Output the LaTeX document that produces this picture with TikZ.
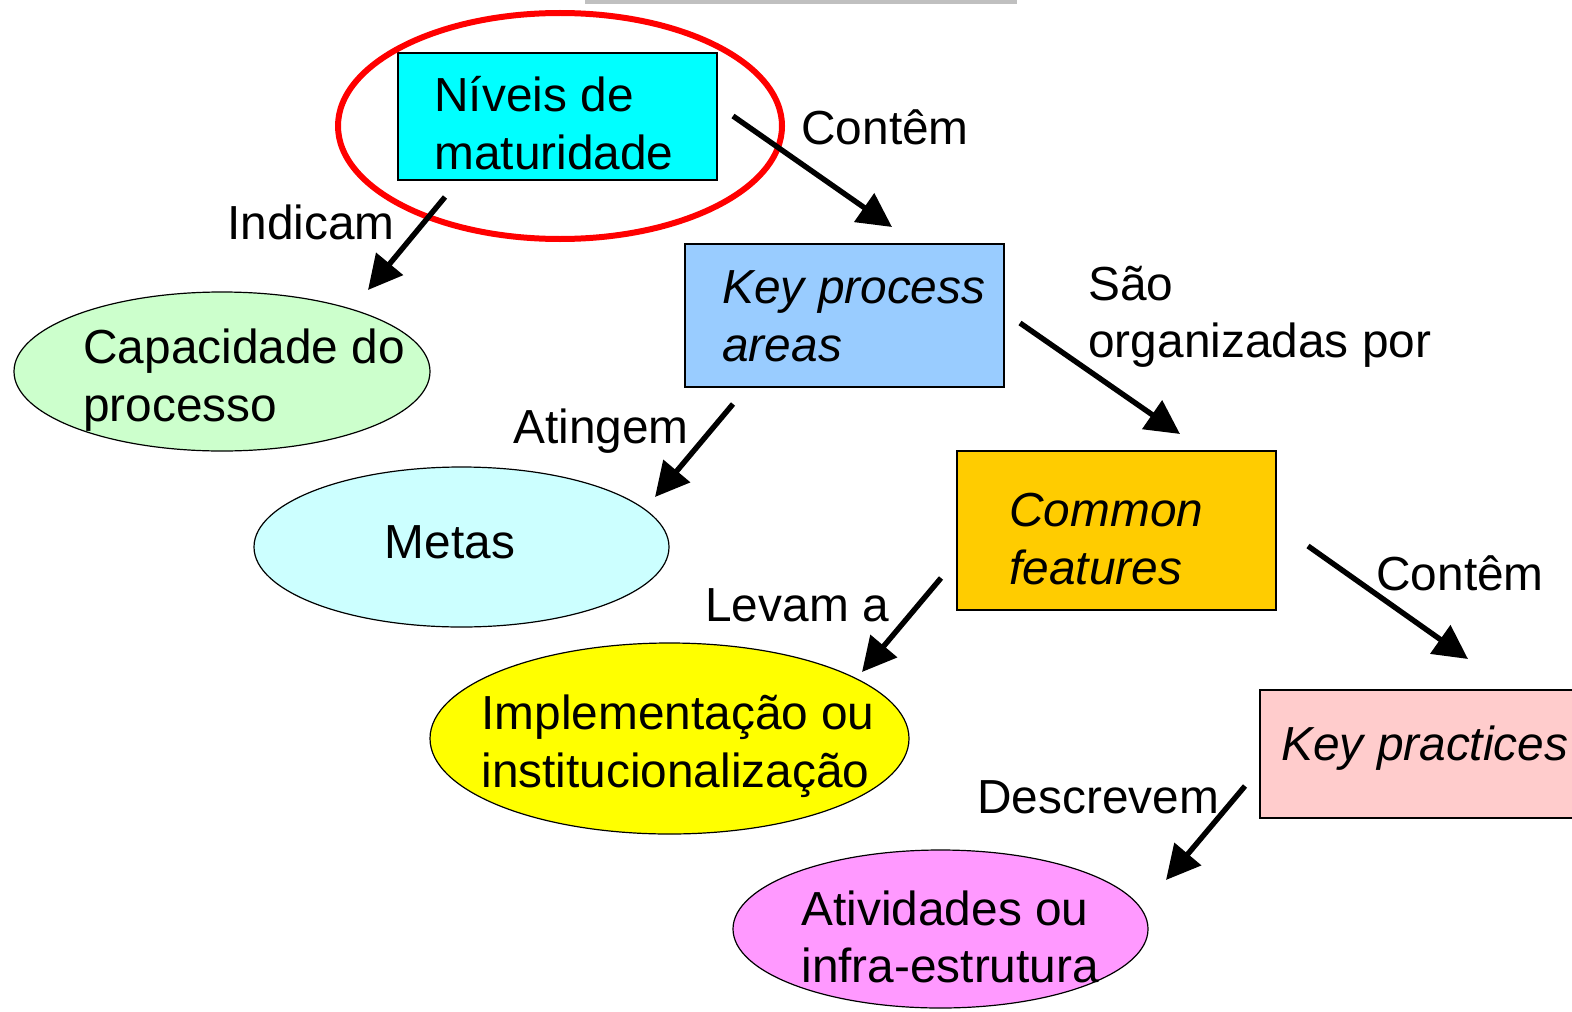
\documentclass[tikz,border=0pt]{standalone}
\usepackage{fontspec}
\setmainfont{Liberation Sans}
\usetikzlibrary{arrows.meta,shapes.geometric}
\definecolor{cCyan}{HTML}{00FFFF}
\definecolor{cBlue}{HTML}{99CCFF}
\definecolor{cOrange}{HTML}{FFCC00}
\definecolor{cPink}{HTML}{FFCCCC}
\definecolor{cGreen}{HTML}{CCFFCC}
\definecolor{cLCyan}{HTML}{CCFFFF}
\definecolor{cYellow}{HTML}{FFFF00}
\definecolor{cMag}{HTML}{FF99FF}
\definecolor{cGray}{HTML}{C0C0C0}
\tikzset{
  boxnode/.style={draw=black,line width=0.8pt,rectangle,inner sep=0pt,minimum width=159.5pt},
  ellnode/.style={draw=black,line width=0.6pt,ellipse,inner sep=0pt},
  txt/.style={font=\fontsize{23.9}{28.8}\selectfont,align=left,inner sep=0pt,anchor=west},
  conn/.style={line width=2.7pt,-{Triangle[length=17pt,width=17pt]}}
}
\begin{document}
\begin{tikzpicture}[x=0.5pt,y=-0.5pt]
\useasboundingbox (0,0) rectangle (1572,1011);
\clip (0,0) rectangle (1572,1011);
\fill[white] (0,0) rectangle (1572,1011);
\fill[cGray] (585,0) rectangle (1017,4);

% boxes
\node[boxnode,fill=cCyan,minimum height=63.5pt] (niveis) at (557.5,116.5) {};
\node[boxnode,fill=cBlue,minimum height=71.5pt] (kpa) at (844.5,315.5) {};
\node[boxnode,fill=cOrange,minimum height=79.5pt] (cf) at (1116.5,530.5) {};
\node[boxnode,fill=cPink,minimum height=64pt] (kp) at (1419.5,754) {};

% ellipses
\node[ellnode,fill=cGreen,minimum width=208pt,minimum height=79.5pt] (cap) at (222,371.5) {};
\node[ellnode,fill=cLCyan,minimum width=207.5pt,minimum height=80pt] (metas) at (461.5,547) {};
\node[ellnode,fill=cYellow,minimum width=239.5pt,minimum height=95.5pt] (impl) at (669.5,738.5) {};
\node[ellnode,fill=cMag,minimum width=207.5pt,minimum height=79pt] (ativ) at (940.5,929) {};

% highlight
\node[draw=red,line width=3pt,ellipse,inner sep=0pt,minimum width=222pt,minimum height=113pt] (hl) at (560,126) {};

% texts in shapes
\node[txt] (tniveis) at (434,123) {Níveis de\\maturidade};
\node[txt] (tkpa) at (722,316) {\itshape Key process\\\itshape areas};
\node[txt] (tcf) at (1009,539) {\itshape Common\\\itshape features};
\node[txt] (tkp) at (1281,748) {\itshape Key practices};
\node[txt] (tcap) at (83,380) {Capacidade do\\processo};
\node[txt,anchor=center] (tmetas) at (450,542) {Metas};
\node[txt] (timpl) at (481,746) {Implementação ou\\institucionalização};
\node[txt] (tativ) at (801,937) {Atividades ou\\infra-estrutura};

% labels
\node[txt] (lind) at (227,222) {Indicam};
\node[txt] (lcont1) at (801,127) {Contêm};
\node[txt] (lsao) at (1088,317) {São\\organizadas por};
\node[txt] (lating) at (513,431) {Atingem};
\node[txt] (llevam) at (705,605) {Levam a};
\node[txt] (lcont2) at (1376,573) {Contêm};
\node[txt] (ldesc) at (977,797) {Descrevem};

% arrow end points
\coordinate (a1s) at (445,197); \coordinate (a1e) at (368,290);
\coordinate (a2s) at (733,116); \coordinate (a2e) at (892,227);
\coordinate (a3s) at (1020,323); \coordinate (a3e) at (1180,434);
\coordinate (a4s) at (733,404); \coordinate (a4e) at (655,497);
\coordinate (a5s) at (941,578); \coordinate (a5e) at (862,672);
\coordinate (a6s) at (1308,546); \coordinate (a6e) at (1468,659);
\coordinate (a7s) at (1245,786); \coordinate (a7e) at (1166,880);
\draw[conn] (a1s) -- (a1e);
\draw[conn] (a2s) -- (a2e);
\draw[conn] (a3s) -- (a3e);
\draw[conn] (a4s) -- (a4e);
\draw[conn] (a5s) -- (a5e);
\draw[conn] (a6s) -- (a6e);
\draw[conn] (a7s) -- (a7e);
\end{tikzpicture}
\end{document}
